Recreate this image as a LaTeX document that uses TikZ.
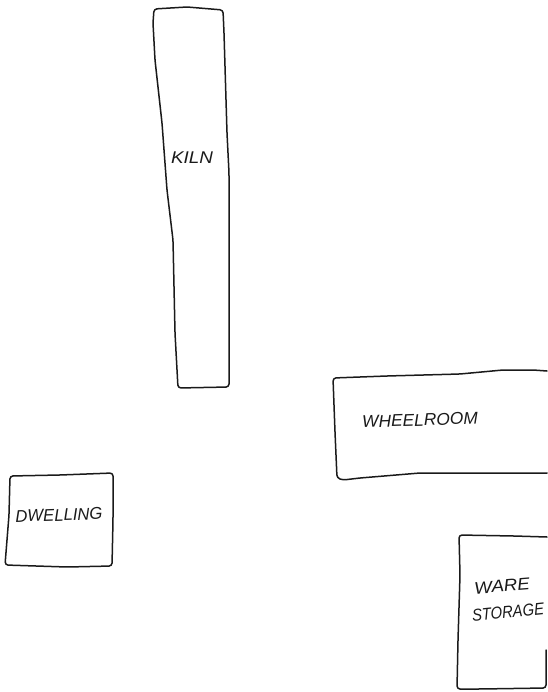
\documentclass[tikz,border=0pt]{standalone}
\usepackage{fontspec}
\setmainfont{Liberation Sans}
\usepackage{xcolor}
\definecolor{sketchink}{HTML}{1A1A1A}
\tikzset{
every picture/.style={line cap=round,line join=round},
room wall/.style={draw=sketchink, line width=1.5pt, rounded corners=3pt},
room label/.style={font=\fontsize{17}{20}\selectfont\itshape, text=sketchink, align=left, inner sep=0pt}
}
\begin{document}
\begin{tikzpicture}[x=1pt,y=-1pt]
\useasboundingbox (0,0) rectangle (547,692);
% rooms
\draw[room wall] (154,9) -- (187,7) -- (223,10) -- (224,33) -- (227,133) -- (229,173) -- (229,233) -- (229,387) -- (178,388) -- (175,333) -- (173,240) -- (167,190) -- (162,123) -- (155,60) -- (153,23) -- cycle;
\draw[room wall] (547,371) -- (533,370) -- (503,370) -- (460,374) -- (387,376) -- (333,378) -- (335,432) -- (337,478) -- (343,480) -- (360,478) -- (420,473) -- (547,473);
\draw[room wall] (10,476) -- (60,475) -- (113,473) -- (113,520) -- (112,566) -- (67,567) -- (5,565) -- (9,515) -- cycle;
\draw[room wall] (547,537) -- (514,536) -- (459,535) -- (460,575) -- (458,640) -- (457,689) -- (480,689) -- (546,688) -- (546,650);
% labels
\node[room label,xscale=1.11] (kiln) at (192,158) {KILN};
\node[room label,xscale=1.02,rotate=2] (wheelroom) at (420,420) {WHEELROOM};
\node[room label,xscale=0.98,rotate=2] (dwelling) at (59,515) {DWELLING};
\node[room label,xscale=1.1,rotate=5] (ware) at (502,586) {WARE};
\node[room label,xscale=0.87,rotate=5] (storage) at (508,612) {STORAGE};
\end{tikzpicture}
\end{document}
